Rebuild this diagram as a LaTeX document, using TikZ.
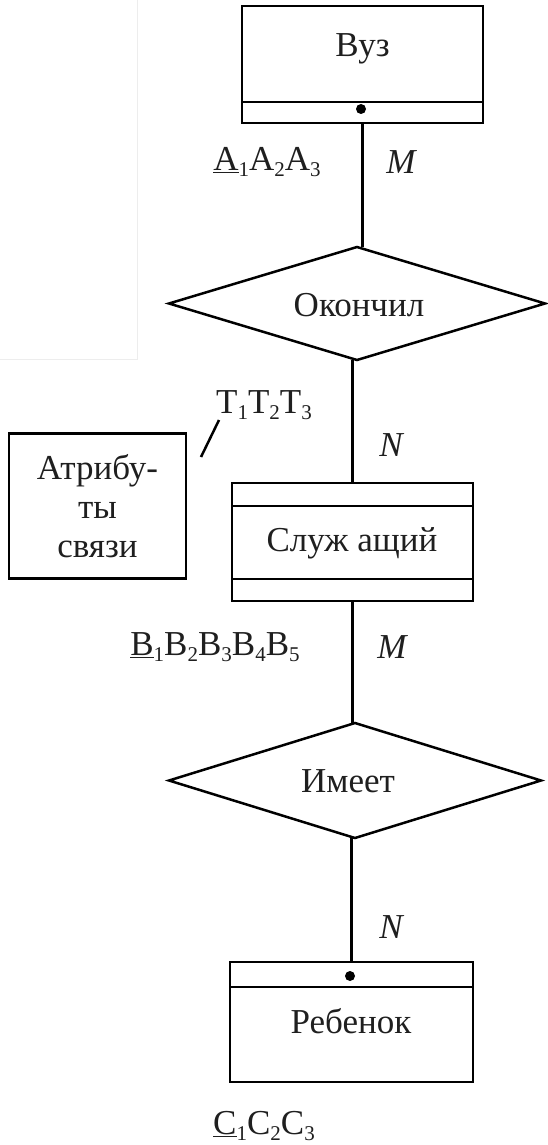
\documentclass[tikz,border=0pt]{standalone}
\usepackage{fontspec}
\setmainfont{Liberation Serif}
\usetikzlibrary{shapes.geometric}
\newcommand{\sbs}[1]{\raisebox{-0.35ex}{\fontsize{21}{21}\selectfont #1}}
\begin{document}
\begin{tikzpicture}[x=1pt,y=-1pt,
  line width=2.5pt,
  txt/.style={inner sep=0pt, outer sep=0pt, text=black!88, font=\fontsize{35}{39}\selectfont},
  entity/.style={draw, rectangle, inner sep=0pt, outer sep=0pt},
  relation/.style={draw, diamond, aspect=3.3, inner sep=0pt, outer sep=0pt},
  card/.style={txt, font=\fontsize{35}{39}\selectfont\itshape},
  keydot/.style={fill, circle, inner sep=0pt, minimum size=10pt}]
\useasboundingbox (0,0) rectangle (547,1145);
% faint frame remnant
\draw[black!7, line width=1pt] (137,0) -- (137,359) -- (0,359);

% entity: Vuz
\node[entity, minimum width=241pt, minimum height=117pt] (vuz) at (362.5,64.5) {};
\node[txt] (vuzt) at (362.5,49) {Вуз};
\draw (vuz.west |- 0,102) -- (vuz.east |- 0,102);
\node[keydot] (vuzd) at (361,109) {};

% relation: Okonchil
\node[relation, minimum width=376pt, minimum height=113pt] (ok) at (357,303.5) {};
\node[txt] (okt) at (359,305) {Окончил};

% entity: Sluzhashchiy
\node[entity, minimum width=241pt, minimum height=118pt] (slu) at (352.5,542) {};
\node[txt] (slut) at (352,543) {Служ ащий};
\draw (slu.west |- 0,506) -- (slu.east |- 0,506);
\draw (slu.west |- 0,579) -- (slu.east |- 0,579);

% relation: Imeet
\node[relation, minimum width=372pt, minimum height=115pt] (im) at (355,780.5) {};
\node[txt] (imt) at (348,781) {Имеет};

% entity: Rebenok
\node[entity, minimum width=243pt, minimum height=120pt] (reb) at (351.5,1022) {};
\draw (reb.west |- 0,987) -- (reb.east |- 0,987);
\node[keydot] (rebd) at (350,976) {};
\node[txt] (rebt) at (351,1021) {Ребенок};

% relationship attributes box
\node[entity, minimum width=177pt, minimum height=145pt, align=center, txt, draw, line width=2.5pt] (attr) at (97.5,506) {Атрибу-\\ты\\связи};

% connectors
\draw (vuz.south) -- (vuz.south |- ok.north);
\draw (slu.north |- ok.south) -- (slu.north);
\draw (slu.south) -- (slu.south |- im.north);
\draw (reb.north |- im.south) -- (reb.north);

% pointer stroke
\coordinate (sl1) at (219,420);
\coordinate (sl2) at (201,457);
\draw (sl1) -- (sl2);

% attribute labels
\node[txt] (la) at (267,162) {\underline{A}\sbs{1}A\sbs{2}A\sbs{3}};
\node[txt] (lt) at (264,405) {T\sbs{1}T\sbs{2}T\sbs{3}};
\node[txt] (lb) at (215,647) {\underline{B}\sbs{1}B\sbs{2}B\sbs{3}B\sbs{4}B\sbs{5}};
\node[txt] (lc) at (264,1126) {\underline{C}\sbs{1}C\sbs{2}C\sbs{3}};

% cardinalities
\node[card] (m1) at (401,162) {M};
\node[card] (n1) at (391,445) {N};
\node[card] (m2) at (392,647) {M};
\node[card] (n2) at (391,927) {N};
\end{tikzpicture}
\end{document}
